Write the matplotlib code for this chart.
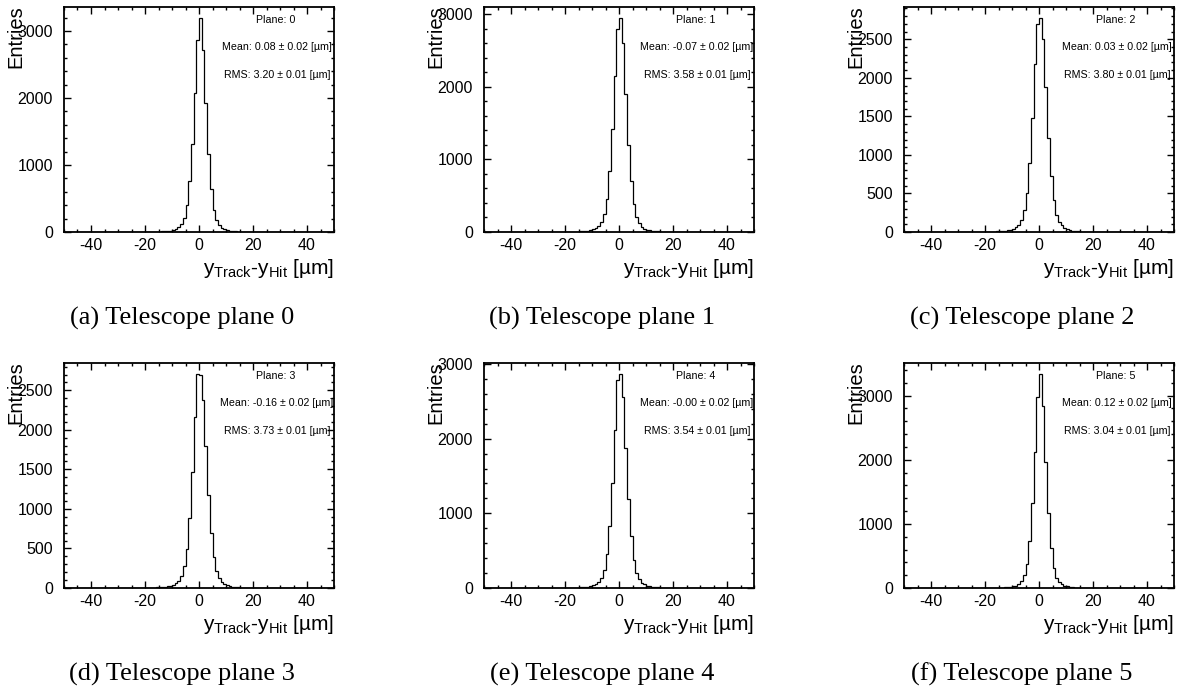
import matplotlib
matplotlib.use("Agg")
import matplotlib.pyplot as plt
import numpy as np
from matplotlib.ticker import MultipleLocator

plt.rcParams['font.family'] = ['Liberation Sans', 'DejaVu Sans']
plt.rcParams['axes.unicode_minus'] = False

# bin contents for bins with lower edges -20 .. 19 (1 um wide), zero elsewhere in [-50, 50]
planes = [0, 1, 2, 3, 4, 5]
letters = ["a", "b", "c", "d", "e", "f"]
means = ["0.08", "-0.07", "0.03", "-0.16", "-0.00", "0.12"]
rms = ["3.20", "3.58", "3.80", "3.73", "3.54", "3.04"]

counts_p0 = [2, 3, 3, 4, 5, 7, 9, 12, 16, 22, 30, 44, 68, 115, 210, 400, 760, 1320, 2080, 2870,
             3200, 2720, 1920, 1170, 640, 330, 175, 105, 65, 42, 28, 19, 13, 9, 6, 4, 3, 2, 2, 1]
counts_p1 = [2, 3, 4, 5, 6, 8, 11, 15, 20, 28, 38, 55, 85, 140, 250, 460, 840, 1420, 2150, 2800,
             2950, 2600, 1900, 1200, 700, 380, 205, 120, 75, 48, 32, 22, 15, 10, 7, 5, 4, 3, 2, 1]
counts_p2 = [3, 4, 5, 6, 8, 10, 13, 17, 23, 32, 44, 62, 95, 160, 280, 500, 900, 1480, 2180, 2700,
             2780, 2500, 1880, 1220, 730, 410, 225, 135, 85, 55, 36, 25, 17, 12, 8, 6, 4, 3, 2, 2]
counts_p3 = [3, 4, 5, 6, 7, 9, 12, 16, 22, 30, 42, 60, 92, 155, 275, 490, 890, 1470, 2160, 2710,
             2700, 2380, 1800, 1180, 700, 390, 215, 128, 80, 52, 34, 23, 16, 11, 8, 5, 4, 3, 2, 1]
counts_p4 = [2, 3, 4, 5, 6, 8, 11, 14, 19, 27, 37, 53, 82, 135, 245, 450, 830, 1400, 2120, 2780,
             2870, 2560, 1880, 1190, 690, 375, 200, 118, 73, 47, 31, 21, 14, 10, 7, 5, 3, 2, 2, 1]
counts_p5 = [1, 2, 3, 3, 4, 5, 7, 9, 13, 18, 25, 38, 60, 105, 195, 380, 740, 1320, 2120, 2980,
             3340, 2830, 1960, 1170, 620, 310, 160, 95, 58, 37, 24, 16, 11, 7, 5, 3, 2, 2, 1, 1]
all_counts = [counts_p0, counts_p1, counts_p2, counts_p3, counts_p4, counts_p5]

y_major = [1000, 1000, 500, 500, 1000, 1000]

W, H = 1187, 693
fig = plt.figure(figsize=(W / 100, H / 100), dpi=100)

ax_left = [64, 484, 904]
ax_top = [7, 363]
ax_w, ax_h = 270, 225
cap_x = [182, 602, 1022]
cap_y = [318, 674]

edges = np.arange(-50, 51, 1)

for i, p in enumerate(planes):
    r, c = divmod(i, 3)
    l = ax_left[c]
    t = ax_top[r]
    ax = fig.add_axes([l / W, 1 - (t + ax_h) / H, ax_w / W, ax_h / H])

    vals = np.zeros(100)
    vals[30:70] = all_counts[i]
    ax.stairs(vals, edges, color='black', linewidth=0.9)

    ax.set_xlim(-50, 50)
    ax.set_ylim(0, max(vals) * 1.05)
    ax.xaxis.set_major_locator(MultipleLocator(20))
    ax.xaxis.set_minor_locator(MultipleLocator(5))
    ax.yaxis.set_major_locator(MultipleLocator(y_major[i]))
    ax.yaxis.set_minor_locator(MultipleLocator(y_major[i] / 5))
    ax.tick_params(which='both', direction='in', top=True, right=True, width=1)
    ax.tick_params(which='major', length=5)
    ax.tick_params(which='minor', length=2.5)
    ax.tick_params(axis='x', which='major', labelsize=11.5, pad=4)
    ax.tick_params(axis='y', which='major', labelsize=11.5, pad=8)
    for s in ax.spines.values():
        s.set_linewidth(1.3)

    ax.text(-0.178, 1.01, "Entries", transform=ax.transAxes, rotation=90,
            ha='center', va='top', fontsize=14.5)
    ax.text(1.0, -0.11, r"$\mathregular{y_{Track}}$-$\mathregular{y_{Hit}}$ [µm]",
            transform=ax.transAxes, ha='right', va='top', fontsize=15)

    ax.text(0.785, 0.942, f"Plane: {p}", transform=ax.transAxes,
            ha='center', va='center', fontsize=7.7)
    ax.text(0.788, 0.822, f"Mean: {means[i]} ± 0.02 [µm]", transform=ax.transAxes,
            ha='center', va='center', fontsize=7.7)
    ax.text(0.79, 0.698, f"RMS: {rms[i]} ± 0.01 [µm]", transform=ax.transAxes,
            ha='center', va='center', fontsize=7.7)

    fig.text(cap_x[c] / W, 1 - cap_y[r] / H, f"({letters[i]}) Telescope plane {p}",
             ha='center', va='center', fontsize=19, family='Liberation Serif')

fig.savefig("out.png", dpi=100)
